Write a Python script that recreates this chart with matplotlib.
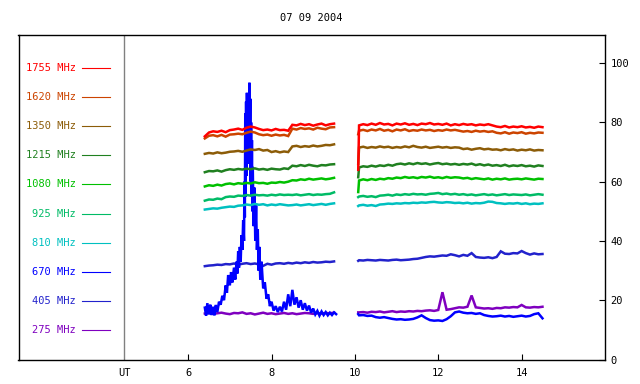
import matplotlib
matplotlib.use("Agg")
import matplotlib.pyplot as plt

plt.rcParams['font.family'] = ['DejaVu Sans Mono']

title = "07 09 2004"
freq_labels = ["1755 MHz", "1620 MHz", "1350 MHz", "1215 MHz", "1080 MHz",
               "925 MHz", "810 MHz", "670 MHz", "405 MHz", "275 MHz"]
colors = ["#ff0000", "#cc4400", "#8c5c08", "#208020", "#00c000",
          "#00bb66", "#00c0c0", "#0000ff", "#2222cc", "#7f00bf"]
x_ticks = [6, 8, 10, 12, 14]
y_ticks = [0, 20, 40, 60, 80, 100]

# time axes (UT hours)
t1 = [6.4, 6.5, 6.6, 6.7, 6.8, 6.9, 7.0, 7.1, 7.2, 7.3, 7.4, 7.5, 7.6, 7.7, 7.8, 7.9,
      8.0, 8.1, 8.2, 8.3, 8.4, 8.5, 8.6, 8.7, 8.8, 8.9, 9.0, 9.1, 9.2, 9.3, 9.4, 9.5]
t2 = [10.08, 10.1, 10.2, 10.3, 10.4, 10.5, 10.6, 10.7, 10.8, 10.9,
      11.0, 11.1, 11.2, 11.3, 11.4, 11.5, 11.6, 11.7, 11.8, 11.9,
      12.0, 12.1, 12.2, 12.3, 12.4, 12.5, 12.6, 12.7, 12.8, 12.9,
      13.0, 13.1, 13.2, 13.3, 13.4, 13.5, 13.6, 13.7, 13.8, 13.9,
      14.0, 14.1, 14.2, 14.3, 14.4, 14.5]

# first segment values
s1755_a = [75.3, 76.6, 77.0, 76.8, 77.2, 76.7, 77.4, 77.6, 77.9, 77.5, 78.2, 78.6, 78.3, 77.8, 77.4, 77.6,
           77.3, 77.8, 77.4, 77.5, 77.2, 79.2, 79.0, 79.5, 79.1, 79.4, 78.9, 79.3, 79.6, 79.0, 79.4, 79.6]
s1620_a = [74.6, 75.5, 75.7, 75.3, 75.8, 75.2, 75.9, 76.0, 76.2, 76.0, 76.5, 76.9, 76.6, 76.0, 75.7, 75.9,
           75.5, 75.9, 75.6, 75.8, 75.4, 77.9, 77.6, 78.1, 77.8, 78.0, 77.6, 78.2, 77.9, 77.7, 78.3, 78.4]
s1350_a = [69.4, 69.7, 69.5, 69.9, 69.6, 69.8, 70.1, 70.2, 70.4, 70.1, 70.5, 70.9, 70.7, 71.0, 70.5, 70.7,
           70.0, 70.3, 69.9, 70.2, 70.0, 71.9, 72.1, 71.7, 72.0, 71.8, 72.2, 71.9, 72.1, 72.4, 72.3, 72.6]
s1215_a = [63.2, 63.6, 63.5, 63.8, 63.4, 63.9, 64.2, 64.0, 64.3, 64.1, 64.4, 64.2, 64.5, 64.1, 64.3, 64.0,
           64.4, 64.2, 64.1, 64.5, 64.3, 65.4, 65.2, 65.6, 65.3, 65.7, 65.4, 65.2, 65.6, 65.5, 65.8, 65.9]
s1080_a = [58.4, 58.8, 58.6, 59.0, 58.7, 59.2, 59.4, 59.1, 59.5, 59.3, 59.6, 59.4, 59.8, 59.5, 59.6, 59.3,
           59.7, 59.6, 59.9, 59.7, 60.0, 60.5, 60.4, 60.8, 60.6, 61.0, 60.7, 60.9, 61.1, 60.8, 61.0, 61.3]
s925_a = [53.6, 54.0, 53.9, 54.3, 54.1, 54.8, 55.0, 54.9, 55.3, 55.2, 55.5, 55.3, 55.6, 55.4, 55.5, 55.3,
          55.6, 55.4, 55.7, 55.5, 55.6, 55.5, 55.7, 55.4, 55.6, 55.8, 55.5, 55.7, 55.6, 55.8, 55.9, 56.4]
s810_a = [50.6, 50.8, 51.0, 50.9, 51.2, 51.4, 51.6, 51.5, 51.9, 52.0, 52.3, 52.1, 52.5, 52.2, 52.4, 52.0,
          52.3, 52.1, 52.4, 52.2, 52.0, 52.1, 52.3, 52.0, 52.2, 52.4, 52.1, 52.3, 52.5, 52.2, 52.5, 52.7]
s405_a = [31.5, 31.7, 31.8, 32.0, 31.9, 32.2, 32.1, 32.4, 32.0, 32.3, 32.5, 32.2, 32.4, 32.1, 31.6, 32.3,
          32.0, 32.4, 32.5, 32.3, 32.6, 32.4, 32.7, 32.5, 32.8, 32.6, 32.9, 32.7, 32.8, 33.0, 32.9, 33.1]
s275_a = [15.5, 15.7, 15.4, 15.6, 15.8, 15.5, 15.3, 15.7, 15.6, 15.9, 15.4, 15.6, 15.2, 15.5, 15.8, 15.4,
          15.6, 15.3, 15.5, 15.7, 15.4, 15.6, 15.3, 15.5, 15.7, 15.6, 15.4, 15.6, 15.5, 15.7, 15.6, 15.8]

# 670 MHz burst, first segment (finer sampling)
t670_a = [6.40, 6.43, 6.46, 6.50, 6.53, 6.56, 6.60, 6.63, 6.66, 6.70,
          6.74, 6.78, 6.82, 6.86, 6.90, 6.93, 6.96, 7.00, 7.03, 7.06,
          7.10, 7.13, 7.16, 7.18, 7.20, 7.22, 7.24, 7.26, 7.28, 7.30,
          7.32, 7.34, 7.35, 7.36, 7.37, 7.38, 7.39, 7.40, 7.41, 7.42,
          7.43, 7.44, 7.45, 7.46, 7.47, 7.48, 7.49, 7.50, 7.51, 7.52,
          7.53, 7.54, 7.55, 7.57, 7.59, 7.61, 7.63, 7.65, 7.67, 7.69,
          7.71, 7.73, 7.76, 7.80, 7.84, 7.88, 7.92, 7.96, 8.00, 8.05,
          8.10, 8.15, 8.20, 8.25, 8.30, 8.35, 8.40, 8.45, 8.50, 8.55,
          8.60, 8.65, 8.70, 8.75, 8.80, 8.85, 8.90, 8.95, 9.00, 9.05,
          9.10, 9.15, 9.20, 9.25, 9.30, 9.35, 9.40, 9.45, 9.50, 9.55]
s670_a = [17.5, 14.8, 19.0, 15.2, 18.5, 15.0, 17.8, 14.9, 18.4, 16.0,
          19.5, 18.5, 21.5, 20.0, 25.0, 22.5, 28.5, 25.0, 29.5, 26.0,
          31.0, 27.0, 33.0, 29.0, 36.5, 31.0, 38.0, 33.0, 42.0, 37.0,
          47.0, 40.0, 60.0, 48.0, 83.0, 55.0, 87.0, 62.0, 90.0, 66.0,
          88.0, 70.0, 85.0, 75.0, 93.4, 72.0, 88.0, 60.0, 80.0, 55.0,
          74.0, 50.0, 65.0, 45.0, 58.0, 40.0, 52.0, 37.0, 44.0, 30.0,
          38.0, 27.0, 33.0, 24.0, 26.0, 20.5, 22.0, 18.0, 19.5, 16.5,
          18.0, 16.0, 17.8, 16.2, 19.5, 16.8, 22.0, 18.0, 23.5, 18.5,
          21.0, 17.5, 20.0, 16.8, 19.0, 16.5, 18.2, 15.8, 17.2, 15.2,
          16.4, 14.8, 16.2, 15.0, 16.0, 14.9, 15.8, 15.0, 15.9, 15.3]

# second segment values
s1755_b = [64.0, 79.0, 79.4, 79.1, 79.6, 79.2, 79.8, 79.3, 79.5, 79.0,
           79.6, 79.3, 79.7, 79.2, 79.5, 79.1, 79.6, 79.4, 79.8, 79.3,
           79.5, 79.2, 79.6, 79.0, 79.4, 79.1, 79.5, 79.2, 79.4, 79.0,
           79.3, 79.1, 79.4, 79.0, 78.6, 78.4, 78.8, 78.3, 78.6, 78.4,
           78.7, 78.3, 78.5, 78.2, 78.6, 78.4]
s1620_b = [76.0, 77.2, 77.5, 77.1, 77.6, 77.3, 77.8, 77.2, 77.5, 77.0,
           77.6, 77.3, 77.7, 77.1, 77.4, 77.2, 77.6, 77.3, 77.5, 77.1,
           77.4, 77.2, 77.6, 77.3, 77.5, 77.2, 76.9, 77.1, 76.8, 77.2,
           76.9, 77.1, 76.8, 77.0, 76.5, 76.3, 76.7, 76.2, 76.6, 76.4,
           76.7, 76.2, 76.5, 76.3, 76.6, 76.5]
s1350_b = [66.0, 71.5, 71.8, 71.4, 71.7, 71.5, 71.9, 71.6, 71.8, 71.4,
           71.7, 71.5, 71.9, 71.6, 72.1, 71.7, 71.5, 71.8, 71.4, 71.6,
           71.8, 71.5, 71.7, 71.4, 71.6, 71.5, 71.0, 71.2, 70.8, 71.1,
           71.3, 70.9, 71.1, 70.8, 70.9, 70.6, 71.0, 70.7, 70.9, 70.5,
           70.8, 70.6, 70.9, 70.5, 70.7, 70.6]
s1215_b = [61.5, 64.8, 65.2, 65.0, 65.4, 65.1, 65.5, 65.3, 65.7, 65.4,
           65.9, 66.1, 65.8, 66.2, 65.9, 66.3, 66.0, 66.2, 65.8, 66.1,
           66.3, 65.9, 66.1, 65.8, 66.0, 65.7, 66.0, 65.8, 66.1, 65.6,
           65.9, 65.5, 65.8, 65.4, 65.6, 65.3, 65.7, 65.2, 65.5, 65.3,
           65.6, 65.2, 65.4, 65.1, 65.5, 65.3]
s1080_b = [56.5, 60.4, 60.8, 60.5, 60.9, 60.6, 61.0, 60.8, 61.2, 61.0,
           61.4, 61.2, 61.6, 61.3, 61.5, 61.2, 61.6, 61.4, 61.7, 61.3,
           61.5, 61.2, 61.6, 61.3, 61.5, 61.4, 61.1, 61.3, 60.9, 61.2,
           61.0, 60.8, 61.1, 60.7, 61.0, 60.8, 61.1, 60.7, 60.9, 61.0,
           60.8, 61.1, 60.9, 60.7, 61.0, 60.9]
s925_b = [54.8, 55.0, 55.2, 54.9, 55.1, 54.8, 55.3, 55.4, 55.6, 55.3,
          55.7, 55.5, 55.8, 55.6, 55.9, 55.7, 55.8, 55.6, 55.9, 56.0,
          56.2, 55.8, 56.0, 55.7, 55.9, 55.6, 55.8, 55.5, 55.7, 55.4,
          55.6, 55.8, 55.5, 55.7, 55.4, 55.6, 55.8, 55.5, 55.7, 55.6,
          55.5, 55.7, 55.4, 55.6, 55.8, 55.6]
s810_b = [51.8, 52.0, 52.2, 51.9, 52.1, 51.8, 52.3, 52.4, 52.6, 52.5,
          52.7, 52.6, 52.8, 52.7, 52.9, 52.8, 53.0, 52.9, 53.1, 53.2,
          53.0, 52.9, 53.1, 53.0, 52.8, 52.9, 52.7, 52.9, 52.6, 52.8,
          52.7, 52.9, 53.3, 53.2, 52.8, 52.7, 52.5, 52.7, 52.6, 52.8,
          52.5, 52.7, 52.4, 52.6, 52.5, 52.7]
s670_b = [15.3, 14.9, 15.0, 14.7, 14.8, 14.3, 14.1, 14.3, 14.0, 13.7,
          13.5, 13.6, 13.4, 13.5, 13.7, 14.2, 14.9, 14.0, 13.3, 13.1,
          13.2, 13.0, 13.6, 14.6, 15.9, 16.2, 15.8, 15.6, 15.7, 15.4,
          15.6, 15.0, 14.7, 14.5, 14.6, 14.8, 14.5, 14.7, 14.4, 14.6,
          14.8, 14.5, 14.7, 15.3, 15.6, 13.9]
s405_b = [33.3, 33.5, 33.4, 33.6, 33.5, 33.4, 33.6, 33.5, 33.4, 33.6,
          33.7, 33.5, 33.6, 33.7, 33.9, 34.0, 34.3, 34.6, 34.8, 34.7,
          34.9, 35.1, 35.0, 35.5, 35.2, 34.8, 35.3, 35.0, 35.9, 34.6,
          34.4, 34.3, 34.5, 34.2, 34.6, 36.5, 35.7, 35.6, 35.9, 35.8,
          36.6, 35.9, 35.4, 35.8, 35.5, 35.6]
s275_b = [15.9, 15.9, 16.0, 15.8, 16.1, 16.0, 16.2, 15.9, 16.1, 16.3,
          16.0, 16.2, 16.1, 16.3, 16.2, 16.4, 16.3, 16.5, 16.6, 16.4,
          16.7, 22.7, 16.8, 17.0, 17.3, 17.6, 17.5, 17.8, 21.6, 17.6,
          17.4, 17.2, 17.3, 17.1, 17.4, 17.3, 17.6, 17.5, 17.7, 17.6,
          18.4, 17.6, 17.5, 17.7, 17.6, 17.8]

series = [
    (t1, s1755_a, t2, s1755_b),
    (t1, s1620_a, t2, s1620_b),
    (t1, s1350_a, t2, s1350_b),
    (t1, s1215_a, t2, s1215_b),
    (t1, s1080_a, t2, s1080_b),
    (t1, s925_a, t2, s925_b),
    (t1, s810_a, t2, s810_b),
    (t670_a, s670_a, t2, s670_b),
    (t1, s405_a, t2, s405_b),
    (t1, s275_a, t2, s275_b),
]

W, H = 640, 384
fig = plt.figure(figsize=(W / 100, H / 100), dpi=100)
left_px, right_px, top_px, bot_px = 18.5, 605, 35, 359.5
ax = fig.add_axes([left_px / W, 1 - bot_px / H, (right_px - left_px) / W, (bot_px - top_px) / H])
ax.set_xlim(1.93, 16.0)
ax.set_ylim(0, 109.5)

# draw low frequencies first so high frequencies lie on top
for i in reversed(range(len(series))):
    ta, va, tb, vb = series[i]
    ax.plot(ta, va, color=colors[i], lw=1.8, solid_joinstyle='miter')
    ax.plot(tb, vb, color=colors[i], lw=1.8, solid_joinstyle='miter')

# legend panel
ut_x = 4.47
ax.axvline(ut_x, color="#808080", lw=1.0)
for i, (lab, c) in enumerate(zip(freq_labels, colors)):
    yy = 98.4 - 9.83 * i
    ax.text(3.31, yy, lab, color=c, ha='right', va='center', fontsize=7.5)
    ax.plot([3.456, 4.128], [yy, yy], color=c, lw=0.8)

ax.set_xticks([ut_x] + x_ticks)
ax.set_xticklabels(["UT"] + [str(v) for v in x_ticks])
ax.xaxis.get_major_ticks()[0].tick1line.set_visible(False)
ax.tick_params(axis='x', direction='in', length=4, pad=6, labelsize=7.5, width=0.8)
ax.yaxis.tick_right()
ax.set_yticks(y_ticks)
ax.set_yticklabels([str(v) for v in y_ticks])
ax.tick_params(axis='y', direction='in', length=4, pad=4, labelsize=7.5, width=0.8)
for sp in ax.spines.values():
    sp.set_linewidth(1.0)
    sp.set_color("black")

fig.text(311 / W, 1 - 18 / H, title, ha='center', va='center', fontsize=7.5)

fig.savefig("out.png", dpi=100)
